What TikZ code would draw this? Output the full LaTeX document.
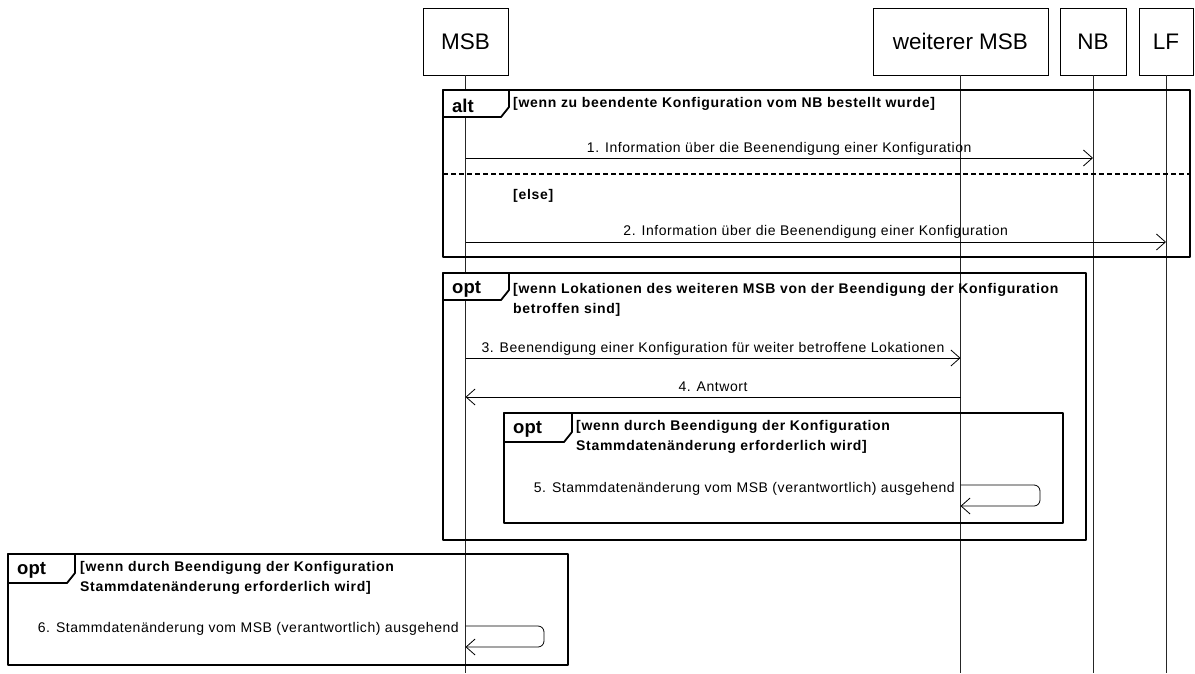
\documentclass[tikz,border=0pt]{standalone}
\usepackage{fontspec}
\setmainfont{Liberation Sans}
\newfontfamily\msgfont[LetterSpace=4]{Liberation Sans}
\newfontfamily\grdfont[LetterSpace=5]{Liberation Sans}
\usetikzlibrary{arrows.meta}
\tikzset{
  part/.style={draw=black, line width=0.8pt, minimum height=67pt, inner sep=0pt, font=\fontsize{22.5}{27}\selectfont},
  life/.style={draw=black!85, line width=0.8pt},
  frame/.style={draw=black, line width=1.8pt, line join=round},
  tagbox/.style={draw=black, line width=1.8pt, fill=white, line join=round},
  tagtext/.style={inner sep=0pt, anchor=west, font=\fontsize{18.5}{22}\selectfont\bfseries},
  guard/.style={inner sep=0pt, anchor=north west, align=left, font={\grdfont\fontsize{14}{20}\selectfont\bfseries}},
  guard1/.style={inner sep=0pt, anchor=base west, font={\grdfont\fontsize{14}{20}\selectfont\bfseries}},
  lbl/.style={inner sep=0pt, font={\msgfont\fontsize{14}{17}\selectfont}},
  msg/.style={draw=black, line width=0.8pt, -{Straight Barb[length=9pt,width=16pt,line width=0.8pt]}},
  sep/.style={draw=black, line width=1.6pt, dash pattern=on 5pt off 3pt},
}
\begin{document}
\begin{tikzpicture}[x=1pt,y=-1pt]
\useasboundingbox (0,0) rectangle (1195,673);
% participants
\node[part, minimum width=85pt, text depth=0pt]  (msb)  at (465.5,41.5) {MSB};
\node[part, minimum width=175pt, text depth=0pt] (wmsb) at (960.5,41.5) {weiterer MSB};
\node[part, minimum width=66pt, text depth=0pt]  (nb)   at (1093,41.5)  {NB};
\node[part, minimum width=54pt, text depth=0pt]  (lf)   at (1166,41.5)  {LF};
\coordinate (bot) at (0,673);
% lifelines
\draw[life] (msb.south) -- (msb.south |- bot);
\draw[life] (wmsb.south) -- (wmsb.south |- bot);
\draw[life] (nb.south) -- (nb.south |- bot);
\draw[life] (lf.south) -- (lf.south |- bot);

% ---- alt frame
\draw[frame] (443,90) rectangle (1190,257);
\draw[sep] (443,174) -- (1190,174);
\draw[tagbox] (443,90) -- (509,90) -- (509,107) -- (501,117) -- (443,117) -- cycle;
\node[tagtext] (altt) at (452,106) {alt};
\node[guard1] (g1) at (513,107) {[wenn zu beendente Konfiguration vom NB bestellt wurde]};
\node[guard1] (gelse) at (513,199) {[else]};

\coordinate (y1) at (0,158);
\coordinate (y2) at (0,242);
\draw[msg] (msb.south |- y1) -- (nb.south |- y1)
  node[lbl, midway, anchor=base, yshift=6pt] (l1) {1. Information über die Beenendigung einer Konfiguration};
\draw[msg] (msb.south |- y2) -- (lf.south |- y2)
  node[lbl, midway, anchor=base, yshift=7pt] (l2) {2. Information über die Beenendigung einer Konfiguration};

% ---- opt frame 1
\draw[frame] (443,273) rectangle (1086,540);
\draw[tagbox] (443,273) -- (509,273) -- (509,290) -- (501,300) -- (443,300) -- cycle;
\node[tagtext] (optt1) at (452,289) {opt};
\node[guard] (g2) at (513,283) {[wenn Lokationen des weiteren MSB von der Beendigung der Konfiguration\\betroffen sind]};

\coordinate (y3) at (0,358);
\coordinate (y4) at (0,397);
\draw[msg] (msb.south |- y3) -- (wmsb.south |- y3)
  node[lbl, midway, anchor=base, yshift=6pt] (l3) {3. Beenendigung einer Konfiguration für weiter betroffene Lokationen};
\draw[msg] (wmsb.south |- y4) -- (msb.south |- y4)
  node[lbl, midway, anchor=base, yshift=6pt] (l4) {4. Antwort};

% ---- inner opt frame
\draw[frame] (504,413) rectangle (1063,523);
\draw[tagbox] (504,413) -- (572,413) -- (572,432) -- (564,442) -- (504,442) -- cycle;
\node[tagtext] (optt2) at (513,429) {opt};
\node[guard] (g3) at (576,420) {[wenn durch Beendigung der Konfiguration\\Stammdatenänderung erforderlich wird]};

\coordinate (y5) at (0,485);
\coordinate (y5b) at (0,506);
\coordinate (r5) at (1040,0);
\draw[msg, rounded corners=6pt] (wmsb.south |- y5) -- (r5 |- y5) -- (r5 |- y5b) -- (wmsb.south |- y5b);
\node[lbl, anchor=base east] (l5) at (955,492) {5. Stammdatenänderung vom MSB (verantwortlich) ausgehend};

% ---- opt frame 2
\draw[frame] (8,554) rectangle (568,665);
\draw[tagbox] (8,554) -- (75,554) -- (75,573) -- (67,583) -- (8,583) -- cycle;
\node[tagtext] (optt3) at (17,570) {opt};
\node[guard] (g4) at (80,561) {[wenn durch Beendigung der Konfiguration\\Stammdatenänderung erforderlich wird]};

\coordinate (y6) at (0,626);
\coordinate (y6b) at (0,647);
\coordinate (r6) at (544,0);
\draw[msg, rounded corners=6pt] (msb.south |- y6) -- (r6 |- y6) -- (r6 |- y6b) -- (msb.south |- y6b);
\node[lbl, anchor=base east] (l6) at (459,632) {6. Stammdatenänderung vom MSB (verantwortlich) ausgehend};
\end{tikzpicture}
\end{document}
